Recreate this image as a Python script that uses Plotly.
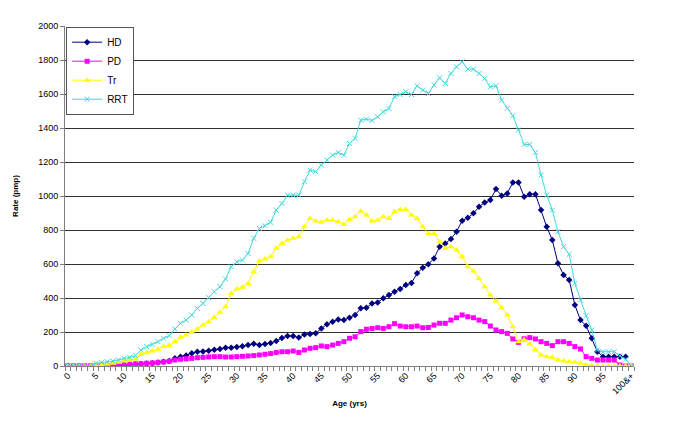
import plotly.graph_objects as go

ages = list(range(101))
tick_pos = list(range(0, 101, 5))
tick_labels = [str(a) for a in range(0, 100, 5)] + ["100&+"]

hd = [0, 0, 0, 0, 0, 0, 0, 0, 2, 4, 6, 8, 10, 12, 14, 16, 20, 25, 30, 45,
      55, 62, 75, 84, 86, 90, 96, 100, 108, 108, 112, 116, 123, 131, 123, 129, 135, 147, 165, 176,
      176, 167, 186, 188, 192, 221, 245, 261, 274, 270, 284, 300, 339, 343, 368, 374, 398, 417, 437, 453,
      476, 488, 545, 578, 598, 633, 702, 721, 747, 790, 855, 872, 898, 937, 962, 976, 1041, 1002, 1015, 1080,
      1080, 996, 1011, 1011, 917, 819, 741, 604, 535, 506, 359, 270, 237, 163, 84, 55, 55, 55, 55, 55, None]

pd_ = [0, 0, 0, 0, 0, 0, 0, 0, 3, 5, 7, 10, 12, 14, 16, 18, 21, 24, 28, 35,
       40, 42, 45, 49, 51, 53, 55, 55, 53, 53, 55, 57, 59, 61, 65, 69, 73, 80, 84, 84,
       88, 80, 94, 104, 108, 118, 114, 123, 133, 143, 163, 172, 202, 216, 221, 225, 221, 231, 249, 235,
       231, 231, 235, 225, 227, 241, 251, 251, 270, 284, 300, 290, 284, 270, 261, 235, 212, 202, 192, 159,
       139, 160, 167, 159, 143, 133, 120, 143, 143, 133, 114, 100, 55, 45, 35, 35, 35, 35, 6, 0, 0]

tr = [0, 0, 0, 0, 0, 0, 6, 10, 16, 22, 29, 35, 41, 69, 78, 88, 98, 114, 120, 143,
      169, 182, 198, 218, 241, 261, 286, 316, 349, 427, 453, 463, 486, 555, 617, 629, 643, 692, 720, 740,
      752, 760, 819, 868, 853, 845, 858, 858, 849, 833, 862, 878, 911, 888, 853, 858, 878, 868, 907, 921,
      921, 888, 868, 819, 780, 780, 731, 692, 702, 682, 643, 584, 559, 515, 466, 417, 382, 343, 300, 231,
      143, 155, 130, 95, 65, 55, 52, 35, 29, 25, 22, 16, 6, 3, 2, 0, 0, 0, 0, 0, 0]

rrt = [3, 3, 3, 3, 3, 16, 22, 25, 29, 35, 45, 51, 61, 94, 114, 127, 143, 163, 178, 218,
       251, 270, 300, 339, 368, 402, 437, 466, 512, 584, 613, 623, 662, 751, 809, 825, 845, 917, 956, 1005,
       1005, 1005, 1084, 1152, 1143, 1182, 1211, 1240, 1256, 1240, 1309, 1339, 1446, 1452, 1444, 1466, 1495, 1515, 1584, 1597,
       1613, 1597, 1648, 1623, 1603, 1652, 1695, 1662, 1721, 1760, 1789, 1746, 1746, 1721, 1691, 1642, 1648, 1564, 1515, 1472,
       1388, 1303, 1303, 1256, 1123, 1005, 917, 790, 702, 657, 486, 388, 296, 212, 94, 84, 84, 84, 60, 40, 0]

series = [
    ("HD", hd, "#000080", "diamond", 5),
    ("PD", pd_, "#FF00FF", "square", 5),
    ("Tr", tr, "#FFFF00", "triangle-up", 6),
    ("RRT", rrt, "#40D8DC", "x-thin-open", 5),
]

fig = go.Figure()
for name, vals, color, sym, size in series:
    marker = dict(symbol=sym, size=size, color=color)
    if sym == "x-thin-open":
        marker["line"] = dict(color=color, width=1)
    fig.add_trace(go.Scatter(
        x=ages, y=vals, name=name, mode="lines+markers",
        line=dict(color=color, width=1), marker=marker,
    ))

fig.update_layout(
    width=685, height=422,
    margin=dict(l=57, r=59, t=18, b=64),
    paper_bgcolor="white", plot_bgcolor="white",
    font=dict(family="Liberation Sans, Arial, sans-serif", size=9, color="black"),
    showlegend=True,
    legend=dict(
        x=0.002, y=0.998, xanchor="left", yanchor="top",
        bgcolor="white", bordercolor="#555555", borderwidth=1,
        font=dict(size=10), tracegroupgap=0, itemwidth=30,
    ),
    xaxis=dict(
        range=[-0.5, 100.5], automargin=False,
        tickmode="array", tickvals=tick_pos, ticktext=tick_labels,
        tickangle=-45, ticks="", showgrid=False,
        showline=True, linecolor="#808080", linewidth=1,
        zeroline=False,
        minor=dict(tick0=-0.5, dtick=1, ticks="outside", ticklen=4,
                   tickcolor="#808080", tickwidth=1, showgrid=False),
        title=dict(text="<b>Age (yrs)</b>", font=dict(size=8), standoff=4),
    ),
    yaxis=dict(
        range=[0, 2000], dtick=200, tick0=0, automargin=False,
        showgrid=True, gridcolor="#303030", gridwidth=1,
        showline=True, linecolor="#808080", linewidth=1,
        ticks="outside", ticklen=4, tickcolor="#808080",
        zeroline=False,
        title=dict(text="<b>Rate (pmp)</b>", font=dict(size=8), standoff=18),
    ),
)

fig.write_html("out.html")
